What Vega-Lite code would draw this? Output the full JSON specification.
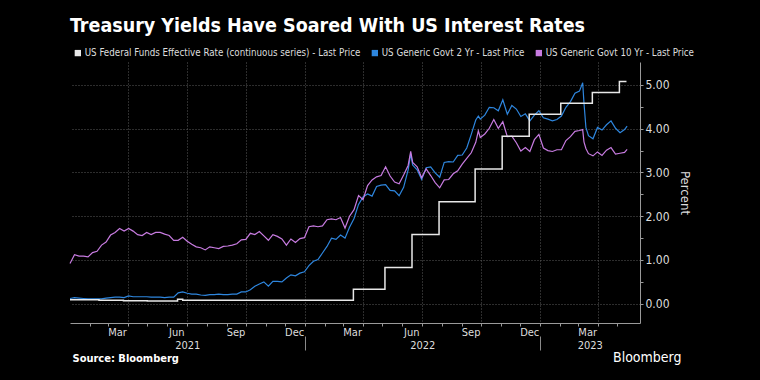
{
  "$schema": "https://vega.github.io/schema/vega-lite/v6.json",
  "width": 570,
  "height": 261,
  "autosize": "none",
  "padding": {"left": 70, "top": 62, "right": 120, "bottom": 57},
  "background": "#000000",
  "config": {
    "view": {"stroke": null},
    "font": "Liberation Sans Narrow, DejaVu Sans Condensed, Roboto Condensed, Arial Narrow, sans-serif",
    "axis": {"labelFont": "Liberation Sans Narrow, DejaVu Sans Condensed, Roboto Condensed, sans-serif", "titleFont": "Liberation Sans Narrow, DejaVu Sans Condensed, Roboto Condensed, sans-serif"}
  },
  "title": {
    "text": "Treasury Yields Have Soared With US Interest Rates",
    "anchor": "start",
    "frame": "group",
    "font": "Liberation Sans Narrow, DejaVu Sans Condensed, Roboto Condensed, sans-serif",
    "fontSize": 19.5,
    "fontWeight": "bold",
    "color": "#ffffff",
    "offset": 12
  },
  "datasets": {
    "yields": [
      {"d": "2021-01-01", "y2": 0.12, "y10": 0.92},
      {"d": "2021-01-08", "y2": 0.14, "y10": 1.12},
      {"d": "2021-01-15", "y2": 0.13, "y10": 1.09},
      {"d": "2021-01-22", "y2": 0.12, "y10": 1.09},
      {"d": "2021-01-29", "y2": 0.11, "y10": 1.07},
      {"d": "2021-02-05", "y2": 0.11, "y10": 1.17},
      {"d": "2021-02-12", "y2": 0.11, "y10": 1.20},
      {"d": "2021-02-19", "y2": 0.11, "y10": 1.34},
      {"d": "2021-02-26", "y2": 0.13, "y10": 1.41},
      {"d": "2021-03-05", "y2": 0.14, "y10": 1.57},
      {"d": "2021-03-12", "y2": 0.15, "y10": 1.63},
      {"d": "2021-03-19", "y2": 0.15, "y10": 1.72},
      {"d": "2021-03-26", "y2": 0.14, "y10": 1.66},
      {"d": "2021-04-02", "y2": 0.18, "y10": 1.72},
      {"d": "2021-04-09", "y2": 0.16, "y10": 1.66},
      {"d": "2021-04-16", "y2": 0.16, "y10": 1.58},
      {"d": "2021-04-23", "y2": 0.16, "y10": 1.56},
      {"d": "2021-04-30", "y2": 0.16, "y10": 1.63},
      {"d": "2021-05-07", "y2": 0.15, "y10": 1.58},
      {"d": "2021-05-14", "y2": 0.15, "y10": 1.63},
      {"d": "2021-05-21", "y2": 0.15, "y10": 1.63},
      {"d": "2021-05-28", "y2": 0.14, "y10": 1.59},
      {"d": "2021-06-04", "y2": 0.15, "y10": 1.56},
      {"d": "2021-06-11", "y2": 0.15, "y10": 1.45},
      {"d": "2021-06-18", "y2": 0.25, "y10": 1.45},
      {"d": "2021-06-25", "y2": 0.27, "y10": 1.52},
      {"d": "2021-07-02", "y2": 0.24, "y10": 1.43},
      {"d": "2021-07-09", "y2": 0.22, "y10": 1.36},
      {"d": "2021-07-16", "y2": 0.22, "y10": 1.30},
      {"d": "2021-07-23", "y2": 0.20, "y10": 1.28},
      {"d": "2021-07-30", "y2": 0.19, "y10": 1.23},
      {"d": "2021-08-06", "y2": 0.21, "y10": 1.30},
      {"d": "2021-08-13", "y2": 0.21, "y10": 1.28},
      {"d": "2021-08-20", "y2": 0.22, "y10": 1.26},
      {"d": "2021-08-27", "y2": 0.21, "y10": 1.31},
      {"d": "2021-09-03", "y2": 0.21, "y10": 1.32},
      {"d": "2021-09-10", "y2": 0.22, "y10": 1.34},
      {"d": "2021-09-17", "y2": 0.22, "y10": 1.37},
      {"d": "2021-09-24", "y2": 0.27, "y10": 1.46},
      {"d": "2021-10-01", "y2": 0.27, "y10": 1.47},
      {"d": "2021-10-08", "y2": 0.32, "y10": 1.61},
      {"d": "2021-10-15", "y2": 0.40, "y10": 1.58},
      {"d": "2021-10-22", "y2": 0.45, "y10": 1.65},
      {"d": "2021-10-29", "y2": 0.50, "y10": 1.55},
      {"d": "2021-11-05", "y2": 0.40, "y10": 1.45},
      {"d": "2021-11-12", "y2": 0.51, "y10": 1.58},
      {"d": "2021-11-19", "y2": 0.51, "y10": 1.54},
      {"d": "2021-11-26", "y2": 0.50, "y10": 1.48},
      {"d": "2021-12-03", "y2": 0.59, "y10": 1.34},
      {"d": "2021-12-10", "y2": 0.66, "y10": 1.48},
      {"d": "2021-12-17", "y2": 0.64, "y10": 1.40},
      {"d": "2021-12-24", "y2": 0.70, "y10": 1.49},
      {"d": "2021-12-31", "y2": 0.73, "y10": 1.51},
      {"d": "2022-01-07", "y2": 0.87, "y10": 1.76},
      {"d": "2022-01-14", "y2": 0.97, "y10": 1.78},
      {"d": "2022-01-21", "y2": 1.01, "y10": 1.76},
      {"d": "2022-01-28", "y2": 1.16, "y10": 1.78},
      {"d": "2022-02-04", "y2": 1.31, "y10": 1.92},
      {"d": "2022-02-11", "y2": 1.50, "y10": 1.94},
      {"d": "2022-02-18", "y2": 1.47, "y10": 1.92},
      {"d": "2022-02-25", "y2": 1.57, "y10": 1.97},
      {"d": "2022-03-04", "y2": 1.50, "y10": 1.73},
      {"d": "2022-03-11", "y2": 1.75, "y10": 2.00},
      {"d": "2022-03-18", "y2": 1.95, "y10": 2.15},
      {"d": "2022-03-25", "y2": 2.27, "y10": 2.47},
      {"d": "2022-04-01", "y2": 2.44, "y10": 2.38},
      {"d": "2022-04-08", "y2": 2.51, "y10": 2.70},
      {"d": "2022-04-15", "y2": 2.46, "y10": 2.83},
      {"d": "2022-04-22", "y2": 2.68, "y10": 2.90},
      {"d": "2022-04-29", "y2": 2.71, "y10": 2.93},
      {"d": "2022-05-06", "y2": 2.72, "y10": 3.13},
      {"d": "2022-05-13", "y2": 2.59, "y10": 2.92},
      {"d": "2022-05-20", "y2": 2.58, "y10": 2.78},
      {"d": "2022-05-27", "y2": 2.47, "y10": 2.74},
      {"d": "2022-06-03", "y2": 2.66, "y10": 2.94},
      {"d": "2022-06-10", "y2": 3.06, "y10": 3.16},
      {"d": "2022-06-14", "y2": 3.43, "y10": 3.48},
      {"d": "2022-06-17", "y2": 3.17, "y10": 3.23},
      {"d": "2022-06-24", "y2": 3.06, "y10": 3.13},
      {"d": "2022-07-01", "y2": 2.84, "y10": 2.88},
      {"d": "2022-07-08", "y2": 3.11, "y10": 3.08},
      {"d": "2022-07-15", "y2": 3.13, "y10": 2.93},
      {"d": "2022-07-22", "y2": 2.99, "y10": 2.77},
      {"d": "2022-07-29", "y2": 2.89, "y10": 2.65},
      {"d": "2022-08-05", "y2": 3.23, "y10": 2.83},
      {"d": "2022-08-12", "y2": 3.25, "y10": 2.84},
      {"d": "2022-08-19", "y2": 3.24, "y10": 2.97},
      {"d": "2022-08-26", "y2": 3.39, "y10": 3.04},
      {"d": "2022-09-02", "y2": 3.40, "y10": 3.19},
      {"d": "2022-09-09", "y2": 3.56, "y10": 3.32},
      {"d": "2022-09-16", "y2": 3.87, "y10": 3.45},
      {"d": "2022-09-23", "y2": 4.20, "y10": 3.69},
      {"d": "2022-09-27", "y2": 4.29, "y10": 3.95},
      {"d": "2022-09-30", "y2": 4.22, "y10": 3.80},
      {"d": "2022-10-07", "y2": 4.31, "y10": 3.88},
      {"d": "2022-10-14", "y2": 4.49, "y10": 4.01},
      {"d": "2022-10-21", "y2": 4.48, "y10": 4.21},
      {"d": "2022-10-28", "y2": 4.41, "y10": 4.01},
      {"d": "2022-11-04", "y2": 4.66, "y10": 4.16},
      {"d": "2022-11-11", "y2": 4.33, "y10": 3.82},
      {"d": "2022-11-18", "y2": 4.53, "y10": 3.83},
      {"d": "2022-11-25", "y2": 4.45, "y10": 3.68},
      {"d": "2022-12-02", "y2": 4.28, "y10": 3.49},
      {"d": "2022-12-09", "y2": 4.34, "y10": 3.57},
      {"d": "2022-12-16", "y2": 4.18, "y10": 3.48},
      {"d": "2022-12-23", "y2": 4.31, "y10": 3.75},
      {"d": "2022-12-30", "y2": 4.41, "y10": 3.87},
      {"d": "2023-01-06", "y2": 4.25, "y10": 3.56},
      {"d": "2023-01-13", "y2": 4.22, "y10": 3.50},
      {"d": "2023-01-20", "y2": 4.18, "y10": 3.48},
      {"d": "2023-01-27", "y2": 4.21, "y10": 3.52},
      {"d": "2023-02-03", "y2": 4.29, "y10": 3.52},
      {"d": "2023-02-10", "y2": 4.49, "y10": 3.73},
      {"d": "2023-02-17", "y2": 4.62, "y10": 3.82},
      {"d": "2023-02-24", "y2": 4.81, "y10": 3.94},
      {"d": "2023-03-03", "y2": 4.86, "y10": 3.96},
      {"d": "2023-03-08", "y2": 5.05, "y10": 3.98},
      {"d": "2023-03-10", "y2": 4.59, "y10": 3.70},
      {"d": "2023-03-13", "y2": 4.03, "y10": 3.55},
      {"d": "2023-03-17", "y2": 3.84, "y10": 3.43},
      {"d": "2023-03-24", "y2": 3.77, "y10": 3.38},
      {"d": "2023-03-31", "y2": 4.03, "y10": 3.47},
      {"d": "2023-04-07", "y2": 3.97, "y10": 3.39},
      {"d": "2023-04-14", "y2": 4.09, "y10": 3.51},
      {"d": "2023-04-21", "y2": 4.18, "y10": 3.57},
      {"d": "2023-04-28", "y2": 4.01, "y10": 3.42},
      {"d": "2023-05-05", "y2": 3.91, "y10": 3.44},
      {"d": "2023-05-12", "y2": 3.98, "y10": 3.46},
      {"d": "2023-05-16", "y2": 4.06, "y10": 3.53}
    ],
    "ff": [
      {"d": "2021-01-01", "v": 0.09, "k": "ff"},
      {"d": "2021-02-15", "v": 0.08, "k": "ff"},
      {"d": "2021-03-25", "v": 0.07, "k": "ff"},
      {"d": "2021-05-01", "v": 0.06, "k": "ff"},
      {"d": "2021-06-17", "v": 0.10, "k": "ff"},
      {"d": "2021-06-25", "v": 0.08, "k": "ff"},
      {"d": "2022-03-17", "v": 0.33, "k": "ff"},
      {"d": "2022-05-05", "v": 0.83, "k": "ff"},
      {"d": "2022-06-16", "v": 1.58, "k": "ff"},
      {"d": "2022-07-28", "v": 2.33, "k": "ff"},
      {"d": "2022-09-22", "v": 3.08, "k": "ff"},
      {"d": "2022-11-03", "v": 3.83, "k": "ff"},
      {"d": "2022-12-15", "v": 4.33, "k": "ff"},
      {"d": "2023-02-02", "v": 4.58, "k": "ff"},
      {"d": "2023-03-23", "v": 4.83, "k": "ff"},
      {"d": "2023-05-04", "v": 5.08, "k": "ff"},
      {"d": "2023-05-15", "v": 5.08, "k": "ff"}
    ]
  },
  "resolve": {"axis": {"x": "independent", "y": "independent"}},
  "layer": [
    {
      "data": {"name": "yields"},
      "transform": [{"fold": ["y2", "y10"], "as": ["k", "v"]}],
      "mark": {"type": "line", "strokeWidth": 1.2},
      "encoding": {
        "x": {
          "field": "d", "type": "temporal",
          "scale": {"domain": [{"year": 2021, "month": 1, "date": 1}, {"year": 2023, "month": 6, "date": 5}]},
          "axis": {
            "orient": "bottom", "title": null, "labels": false, "grid": false,
            "domain": true, "domainColor": "#9a9a9a", "ticks": true, "tickSize": 3, "tickColor": "#9a9a9a",
            "values": [
              {"year": 2021, "month": 2, "date": 1}, {"year": 2021, "month": 3, "date": 1}, {"year": 2021, "month": 4, "date": 1},
              {"year": 2021, "month": 5, "date": 1}, {"year": 2021, "month": 6, "date": 1}, {"year": 2021, "month": 7, "date": 1},
              {"year": 2021, "month": 8, "date": 1}, {"year": 2021, "month": 9, "date": 1}, {"year": 2021, "month": 10, "date": 1},
              {"year": 2021, "month": 11, "date": 1}, {"year": 2021, "month": 12, "date": 1}, {"year": 2022, "month": 1, "date": 1},
              {"year": 2022, "month": 2, "date": 1}, {"year": 2022, "month": 3, "date": 1}, {"year": 2022, "month": 4, "date": 1},
              {"year": 2022, "month": 5, "date": 1}, {"year": 2022, "month": 6, "date": 1}, {"year": 2022, "month": 7, "date": 1},
              {"year": 2022, "month": 8, "date": 1}, {"year": 2022, "month": 9, "date": 1}, {"year": 2022, "month": 10, "date": 1},
              {"year": 2022, "month": 11, "date": 1}, {"year": 2022, "month": 12, "date": 1}, {"year": 2023, "month": 1, "date": 1},
              {"year": 2023, "month": 2, "date": 1}, {"year": 2023, "month": 3, "date": 1}, {"year": 2023, "month": 4, "date": 1},
              {"year": 2023, "month": 5, "date": 1}
            ]
          }
        },
        "y": {
          "field": "v", "type": "quantitative",
          "scale": {"domain": [-0.44, 5.525], "nice": false, "zero": false},
          "axis": {
            "orient": "right", "values": [0, 1, 2, 3, 4, 5], "format": ".2f",
            "domain": true, "domainColor": "#9a9a9a", "ticks": true, "tickSize": 3, "tickColor": "#9a9a9a",
            "grid": true, "gridColor": "#5a5a5a", "gridDash": [1, 2], "gridWidth": 1,
            "labelColor": "#dddddd", "labelFontSize": 12, "labelPadding": 2,
            "title": "Percent", "titleColor": "#dddddd", "titleFontSize": 13, "titleFontWeight": "normal", "titlePadding": 8
          }
        },
        "color": {
          "field": "k", "type": "nominal",
          "scale": {"domain": ["ff", "y2", "y10"], "range": ["#e8e8e8", "#2e86de", "#c77be0"]},
          "legend": {
            "orient": "none", "legendX": 3, "legendY": -14, "direction": "horizontal", "title": null,
            "symbolType": "square", "symbolSize": 40, "symbolStrokeWidth": 0,
            "labelColor": "#dddddd", "labelFontSize": 9.7, "labelOffset": 2, "columnPadding": 9, "labelLimit": 500,
            "labelFont": "Liberation Sans Narrow, DejaVu Sans Condensed, Roboto Condensed, sans-serif",
            "labelExpr": "datum.label == 'ff' ? 'US Federal Funds Effective Rate (continuous series) - Last Price' : datum.label == 'y2' ? 'US Generic Govt 2 Yr - Last Price' : 'US Generic Govt 10 Yr - Last Price'",
            "encode": {"symbols": {"update": {"fill": {"scale": "color", "field": "value"}, "strokeWidth": {"value": 0}}}}
          }
        }
      }
    },
    {
      "data": {"name": "ff"},
      "mark": {"type": "line", "interpolate": "step-after", "strokeWidth": 1.5},
      "encoding": {
        "x": {
          "field": "d", "type": "temporal",
          "axis": {
            "orient": "bottom", "title": null, "labels": false, "ticks": false, "domain": false,
            "grid": true, "gridColor": "#5a5a5a", "gridDash": [1, 2], "gridWidth": 1,
            "values": [
              {"year": 2021, "month": 4, "date": 1}, {"year": 2021, "month": 7, "date": 1}, {"year": 2021, "month": 10, "date": 1},
              {"year": 2022, "month": 1, "date": 1}, {"year": 2022, "month": 4, "date": 1}, {"year": 2022, "month": 7, "date": 1},
              {"year": 2022, "month": 10, "date": 1}, {"year": 2023, "month": 1, "date": 1}, {"year": 2023, "month": 4, "date": 1}
            ]
          }
        },
        "y": {
          "field": "v", "type": "quantitative",
          "axis": {
            "orient": "right", "values": [0.5, 1.5, 2.5, 3.5, 4.5], "labels": false, "grid": false,
            "domain": false, "ticks": true, "tickSize": 3, "tickColor": "#9a9a9a", "title": null
          }
        },
        "color": {"field": "k", "type": "nominal"}
      }
    },
    {
      "data": {"name": "ff"},
      "mark": {"type": "point", "opacity": 0},
      "encoding": {
        "x": {
          "field": "d", "type": "temporal",
          "axis": {
            "orient": "bottom", "title": null, "ticks": false, "tickSize": 0, "domain": false, "grid": false,
            "format": "%b", "labelColor": "#dddddd", "labelFontSize": 11, "labelPadding": 3,
            "values": [
              {"year": 2021, "month": 3, "date": 15}, {"year": 2021, "month": 6, "date": 15}, {"year": 2021, "month": 9, "date": 15},
              {"year": 2021, "month": 12, "date": 15}, {"year": 2022, "month": 3, "date": 15}, {"year": 2022, "month": 6, "date": 15},
              {"year": 2022, "month": 9, "date": 15}, {"year": 2022, "month": 12, "date": 15}, {"year": 2023, "month": 3, "date": 15}
            ]
          }
        },
        "y": {"field": "v", "type": "quantitative", "axis": null}
      }
    },
    {
      "data": {"name": "ff"},
      "mark": {"type": "point", "opacity": 0},
      "encoding": {
        "x": {
          "field": "d", "type": "temporal",
          "axis": {
            "orient": "bottom", "ticks": false, "tickSize": 0, "domain": false, "grid": false,
            "format": "%Y", "labelColor": "#dddddd", "labelFontSize": 11, "labelPadding": 16,
            "values": [
              {"year": 2021, "month": 7, "date": 2}, {"year": 2022, "month": 7, "date": 2}, {"year": 2023, "month": 3, "date": 19}
            ],
            "title": "Bloomberg", "titleX": 611, "titleY": 34, "titleAlign": "right", "titleBaseline": "middle",
            "titleAngle": 0, "titleColor": "#ffffff", "titleFontSize": 14, "titleFontWeight": 500
          }
        },
        "y": {"field": "v", "type": "quantitative", "axis": null}
      }
    },
    {
      "data": {"name": "ff"},
      "mark": {"type": "point", "opacity": 0},
      "encoding": {
        "x": {
          "field": "d", "type": "temporal",
          "axis": {
            "orient": "bottom", "offset": 13, "labels": false, "domain": false, "grid": false,
            "ticks": true, "tickSize": 14, "tickColor": "#8a8a8a",
            "values": [{"year": 2022, "month": 1, "date": 1}, {"year": 2023, "month": 1, "date": 1}],
            "title": "Source: Bloomberg", "titleX": 2, "titleY": 22, "titleAlign": "left", "titleBaseline": "middle",
            "titleAngle": 0, "titleColor": "#ffffff", "titleFontSize": 11, "titleFontWeight": "bold"
          }
        },
        "y": {"field": "v", "type": "quantitative", "axis": null}
      }
    }
  ]
}
